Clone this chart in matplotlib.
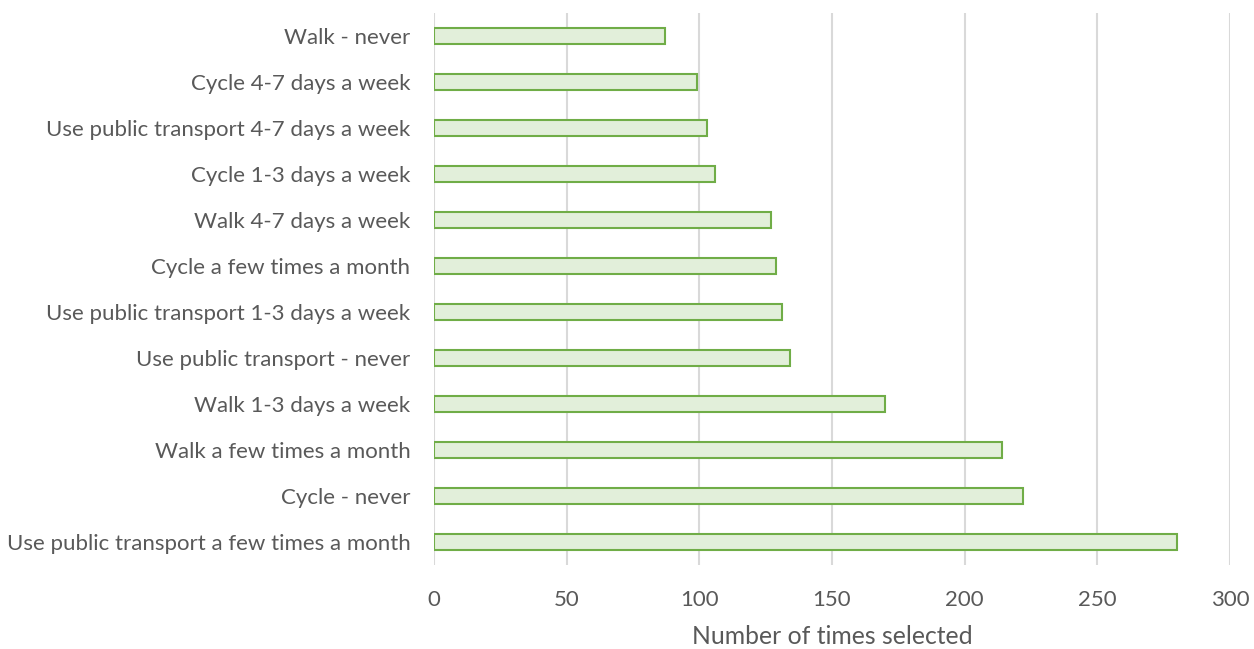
import matplotlib
matplotlib.use("Agg")
import matplotlib.pyplot as plt

# categories listed top to bottom as in the chart
CATEGORIES = [
    "Walk - never",
    "Cycle 4-7 days a week",
    "Use public transport 4-7 days a week",
    "Cycle 1-3 days a week",
    "Walk 4-7 days a week",
    "Cycle a few times a month",
    "Use public transport 1-3 days a week",
    "Use public transport - never",
    "Walk 1-3 days a week",
    "Walk a few times a month",
    "Cycle - never",
    "Use public transport a few times a month",
]
COUNTS = [87, 99, 103, 106, 127, 129, 131, 134, 170, 214, 222, 280]
XTICKS = [0, 50, 100, 150, 200, 250, 300]

TEXT = "#595959"
plt.rcParams["font.family"] = ["Lato", "DejaVu Sans"]

fig = plt.figure(figsize=(12.54, 6.49), dpi=100)
ax = fig.add_axes([434 / 1254, 1 - 565 / 649, 796 / 1254, 552 / 649])

y = list(range(len(CATEGORIES)))
ax.barh(y, COUNTS, height=0.35, color="#E2EFDA", edgecolor="#70AD47",
        linewidth=1.5, zorder=3)
ax.set_ylim(len(CATEGORIES) - 0.5, -0.5)
ax.set_xlim(0, 300)
ax.set_yticks(y)
ax.set_yticklabels(CATEGORIES, fontsize=16.0, color=TEXT)
ax.set_xticks(XTICKS)
ax.set_xticklabels([str(t) for t in XTICKS], fontsize=16, color=TEXT)
ax.tick_params(length=0, pad=17, axis="y")
ax.tick_params(length=0, pad=18, axis="x")
ax.set_xlabel("Number of times selected", fontsize=17.8, color=TEXT, labelpad=11)
ax.grid(axis="x", color="#D9D9D9", linewidth=1.5, zorder=0)
for s in ax.spines.values():
    s.set_visible(False)

fig.savefig("out.png", dpi=100)
